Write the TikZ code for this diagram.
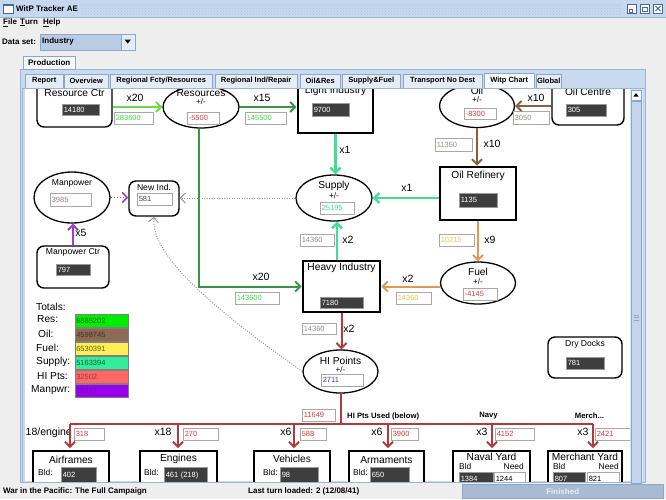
\documentclass[tikz,border=0pt]{standalone}
\usepackage{fontspec}
\setmainfont{Liberation Sans}
\usetikzlibrary{arrows.meta,shapes.geometric,patterns}
\definecolor{winbg}{HTML}{EEEEEE}
\definecolor{titlebg}{HTML}{C6D8EF}
\definecolor{titlepat}{HTML}{AFC5E3}
\definecolor{titleline}{HTML}{9DB6D6}
\definecolor{iconbd}{HTML}{4A6A9A}
\definecolor{panelbg}{HTML}{C8DAEF}
\definecolor{panelbd}{HTML}{9DB6D6}
\definecolor{tabbg}{HTML}{E4ECF6}
\definecolor{tabsel}{HTML}{F6F9FD}
\definecolor{tabbd}{HTML}{8EA7C7}
\definecolor{combobg}{HTML}{B9CCE4}
\definecolor{sbtrack}{HTML}{D8E4F2}
\definecolor{sbthumb}{HTML}{C2D5EC}
\definecolor{progbg}{HTML}{A9BBD3}
\definecolor{progtx}{HTML}{E6ECF4}
\definecolor{lgreen}{HTML}{6CD84C}
\definecolor{dgreen}{HTML}{3A9448}
\definecolor{mteal}{HTML}{3FE092}
\definecolor{brownar}{HTML}{8E5E3A}
\definecolor{orangear}{HTML}{DE9A55}
\definecolor{redar}{HTML}{B23A3A}
\definecolor{purpar}{HTML}{A03CD0}
\definecolor{dotgray}{HTML}{9A9A9A}
\definecolor{valbd}{HTML}{A8A8A8}
\definecolor{darkval}{HTML}{3E3E3E}
\definecolor{dvalbd}{HTML}{9A9A9A}
\definecolor{tgreen}{HTML}{44D844}
\definecolor{tred}{HTML}{E03A3A}
\definecolor{tbrown}{HTML}{A58C7C}
\definecolor{tteal}{HTML}{3ED8A0}
\definecolor{tyel}{HTML}{EFC24A}
\definecolor{tgray}{HTML}{8E8E8E}
\definecolor{tblue}{HTML}{3344BB}
\definecolor{tmauve}{HTML}{A07A88}
\definecolor{tdk}{HTML}{444444}
\definecolor{cres}{HTML}{00EE00}
\definecolor{coil}{HTML}{8E6A52}
\definecolor{cfuel}{HTML}{FFEE55}
\definecolor{csup}{HTML}{33EE99}
\definecolor{chi}{HTML}{FF6666}
\definecolor{cman}{HTML}{9900EE}
\newcommand\myui{\fontsize{8}{9.6}\selectfont\bfseries}
\newcommand\mytab{\fontsize{7.5}{9}\selectfont\bfseries}
\newcommand\mydg{\fontsize{10.2}{12}\selectfont}
\newcommand\mysm{\fontsize{8.6}{10}\selectfont}
\newcommand\myval{\fontsize{7.5}{9}\selectfont}
\newcommand\mylab{\fontsize{10.5}{12}\selectfont}
\newcommand\mypm{\fontsize{8}{9}\selectfont}
\newcommand\mybld{\fontsize{8.4}{9}\selectfont}
\newcommand\mysmb{\fontsize{7.7}{9}\selectfont\bfseries}
\tikzset{
 txt/.style={inner sep=0pt, font=\mydg},
 stxt/.style={inner sep=0pt, font=\mysm},
 pm/.style={inner sep=0pt, font=\mypm},
 lab/.style={inner sep=0pt, font=\mylab},
 rbox/.style={draw=black, rounded corners=7pt, line width=1.4pt, inner sep=0pt, fill=white},
 tbox/.style={draw=black, line width=2.8pt, inner sep=0pt, fill=white},
 ell/.style={draw=black, ellipse, line width=1.3pt, inner sep=0pt, fill=white},
 val/.style={draw=valbd, fill=white, line width=0.6pt, inner xsep=1.5pt, inner ysep=0pt, anchor=north west, align=left, font=\myval},
 dval/.style={val, fill=darkval, draw=dvalbd, text=white},
 ar/.style={line width=2pt, -{Straight Barb[length=5pt,width=10pt]}},
 dotar/.style={dotgray, line width=1pt, dash pattern=on 1pt off 1.5pt, -{Straight Barb[length=5pt,width=10pt]}},
 tabn/.style={draw=tabbd, fill=tabbg, inner sep=0pt, anchor=south west, minimum height=14pt, font=\mytab},
 tot/.style={inner sep=0pt, anchor=west, font=\mydg},
 totbox/.style={draw=gray, line width=0.5pt, anchor=north west, minimum width=53pt, minimum height=12.5pt, inner sep=0pt, inner xsep=1pt, align=left, text width=51pt, font=\myval},
}
\begin{document}
\begin{tikzpicture}[x=1pt,y=-1pt]
\useasboundingbox (0,0) rectangle (666,499);
\fill[winbg] (0,0) rectangle (666,499);
% ---------- title bar
\fill[titlebg] (0,0) rectangle (666,17);
\fill[pattern=crosshatch dots, pattern color=titlepat] (80,3) rectangle (622,14);
\draw[titleline] (0,17) -- (666,17);
\node[draw=iconbd, fill=white, line width=0.8pt, minimum width=10pt, minimum height=9pt, inner sep=0pt] (ticon) at (8,8.5) {};
\fill[iconbd] (ticon.north west) rectangle ([yshift=-2.5pt]ticon.north east);
\node[anchor=west, inner sep=0pt, font=\myui] (ttl) at (16,9) {WitP Tracker AE};
\node[draw=iconbd, fill=white, line width=0.6pt, minimum size=9pt, inner sep=0pt] (wb1) at (632,8.5) {};
\node[draw=iconbd, fill=white, line width=0.6pt, minimum size=9pt, inner sep=0pt] (wb2) at (645,8.5) {};
\node[draw=iconbd, fill=white, line width=0.6pt, minimum size=9pt, inner sep=0pt] (wb3) at (658,8.5) {};
\draw[iconbd, line width=1pt] (629.5,9.5) rectangle (632.5,12);
\draw[iconbd, line width=1pt] (642.5,7) rectangle (647.5,11.5);
\draw[iconbd, line width=1pt] (655.5,6) -- (660.5,11) (660.5,6) -- (655.5,11);
% ---------- menu
\node[anchor=west, inner sep=0pt, font=\myui] (mfile) at (3,22.5) {\underline{F}ile};
\node[anchor=west, inner sep=0pt, font=\myui] (mturn) at (20,22.5) {\underline{T}urn};
\node[anchor=west, inner sep=0pt, font=\myui] (mhelp) at (43,22.5) {\underline{H}elp};
% ---------- data set
\node[anchor=west, inner sep=0pt, font=\myui] (dslab) at (2,42) {Data set:};
\node[draw=tabbd, fill=combobg, minimum width=95pt, minimum height=16pt, anchor=north west, inner sep=0pt] (combo) at (39.5,33.5) {};
\node[anchor=west, inner sep=0pt, font=\myui] (combot) at (42,41.5) {Industry};
\node[draw=tabbd, fill=tabbg, minimum width=14pt, minimum height=16pt, anchor=north east, inner sep=0pt] (cbtn) at (combo.north east) {};
\fill (124.5,39.5) -- (131,39.5) -- (127.75,43.5) -- cycle;
% ---------- tabbed panes
\draw[panelbd, fill=panelbg] (20,69) rectangle (645,482);
\node[tabn, fill=tabsel, minimum width=52pt, minimum height=13pt, font=\myui] (ptab) at (23,69.5) {Production};
\node[tabn, minimum width=38pt] (t1) at (25,88) {Report};
\node[tabn, minimum width=44pt] (t2) at (64,88) {Overview};
\node[tabn, minimum width=102pt] (t3) at (110,88) {Regional Fcty/Resources};
\node[tabn, minimum width=82pt] (t4) at (215,88) {Regional Ind/Repair};
\node[tabn, minimum width=40pt] (t5) at (300,88) {Oil\&Res};
\node[tabn, minimum width=58pt] (t6) at (342,88) {Supply\&Fuel};
\node[tabn, minimum width=79pt] (t7) at (403,88) {Transport No Dest};
\node[tabn, minimum width=50pt, fill=tabsel, minimum height=15pt] (t8) at (484,88.5) {Witp Chart};
\node[tabn, minimum width=25pt] (t9) at (536,88) {Global};
\draw[panelbd, fill=panelbg] (22,88) rectangle (645,482);
\fill[white] (25,89) rectangle (630,481);
% scrollbar
\fill[sbtrack] (630,89) rectangle (643,481);
\node[draw=tabbd, fill=tabsel, minimum width=10pt, minimum height=10pt, anchor=north west, inner sep=0pt] (sbup) at (631,90) {};
\fill (633.5,96.5) -- (638.5,96.5) -- (636,93) -- cycle;
\node[draw=tabbd, fill=sbthumb, minimum width=10pt, minimum height=382pt, anchor=north west, inner sep=0pt] (sbth) at (631,101) {};
\draw[tabbd] (633.5,315) -- (638.5,315) (633.5,317.5) -- (638.5,317.5) (633.5,320) -- (638.5,320);
% ---------- status bar
\node[anchor=west, inner sep=0pt, font=\myui] (st1) at (3,491) {War in the Pacific: The Full Campaign};
\node[anchor=west, inner sep=0pt, font=\myui] (st2) at (248,491) {Last turn loaded: 2 (12/08/41)};
\node[draw=tabbd, fill=progbg, minimum width=201pt, minimum height=14pt, anchor=north west, inner sep=0pt, font=\myui, text=progtx] (prog) at (462,484) {Finished};
% ================= chart
\begin{scope}
\clip (25,89) rectangle (630,481);
% ---- nodes
\node[rbox, minimum width=75pt, minimum height=60pt] (rc) at (74.5,97) {};
\node[txt] (rct) at (74.5,93) {Resource Ctr};
\node[ell, minimum width=76pt, minimum height=42pt] (res) at (201,107) {};
\node[txt] (rest) at (201,93) {Resources};
\node[pm] (respm) at (201,102) {+/-};
\node[tbox, minimum width=75pt, minimum height=55pt] (li) at (335.5,105.5) {};
\node[txt] (lit) at (335.5,90.5) {Light Industry};
\node[ell, minimum width=75pt, minimum height=43pt] (oil) at (477,106) {};
\node[txt] (oilt) at (477,91) {Oil};
\node[pm] (oilpm) at (477,100) {+/-};
\node[rbox, minimum width=72pt, minimum height=50pt] (oc) at (588,100) {};
\node[txt] (oct) at (588,92) {Oil Centre};
\node[tbox, minimum width=76pt, minimum height=53pt] (ref) at (478,193.5) {};
\node[txt] (reft) at (478,176) {Oil Refinery};
\node[ell, minimum width=76pt, minimum height=46pt] (sup) at (334,198) {};
\node[txt] (supt) at (334,186) {Supply};
\node[pm] (suppm) at (334,195.5) {+/-};
\node[ell, minimum width=75pt, minimum height=42pt] (fuel) at (478,283) {};
\node[txt] (fuelt) at (478,271.5) {Fuel};
\node[pm] (fuelpm) at (478,281.5) {+/-};
\node[tbox, minimum width=77pt, minimum height=51pt] (hi) at (341.5,286.5) {};
\node[txt] (hit) at (341.5,268) {Heavy Industry};
\node[ell, minimum width=75pt, minimum height=43pt] (hip) at (340.5,371.5) {};
\node[txt] (hipt) at (340.5,360.5) {HI Points};
\node[pm] (hippm) at (340.5,369.5) {+/-};
\node[rbox, minimum width=50pt, minimum height=35pt] (ni) at (154,198.5) {};
\node[stxt] (nit) at (154,187) {New Ind.};
\node[ell, minimum width=76pt, minimum height=51pt] (mp) at (72,197.5) {};
\node[stxt] (mpt) at (72,183) {Manpower};
\node[rbox, minimum width=72pt, minimum height=42pt] (mc) at (73,267) {};
\node[stxt] (mct) at (73,252) {Manpower Ctr};
\node[rbox, minimum width=74pt, minimum height=41pt] (dd) at (585,357.5) {};
\node[stxt] (ddt) at (585,344) {Dry Docks};
% bottom boxes
\node[tbox, minimum width=76pt, minimum height=58pt] (af) at (71,480) {};
\node[txt] (aft) at (71,460) {Airframes};
\node[tbox, minimum width=77pt, minimum height=58pt] (en) at (178.5,480) {};
\node[txt] (ent) at (178.5,459) {Engines};
\node[tbox, minimum width=76pt, minimum height=58pt] (ve) at (292,480) {};
\node[txt] (vet) at (292,459) {Vehicles};
\node[tbox, minimum width=75pt, minimum height=58pt] (arm) at (386.5,480) {};
\node[txt] (armt) at (386.5,460) {Armaments};
\node[tbox, minimum width=77pt, minimum height=58pt] (ny) at (491.5,480) {};
\node[txt] (nyt) at (491.5,457) {Naval Yard};
\node[tbox, minimum width=74pt, minimum height=58pt] (my) at (585,480) {};
\node[txt] (myt) at (585,457) {Merchant Yard};
\node[inner sep=0pt, anchor=west, font=\mybld] (afb) at (38,472) {Bld:};
\node[inner sep=0pt, anchor=west, font=\mybld] (enb) at (144,472) {Bld:};
\node[inner sep=0pt, anchor=west, font=\mybld] (veb) at (263,472) {Bld:};
\node[inner sep=0pt, anchor=west, font=\mybld] (armb) at (353,472) {Bld:};
\node[inner sep=0pt, anchor=west, font=\mybld] (nyb) at (459,466) {Bld};
\node[inner sep=0pt, anchor=east, font=\mybld] (nyn) at (524,466) {Need};
\node[inner sep=0pt, anchor=west, font=\mybld] (myb) at (553,466) {Bld};
\node[inner sep=0pt, anchor=east, font=\mybld] (myn) at (619,466) {Need};
% ---- values
\node[dval, text width=34pt, minimum height=11pt] (vrc) at (62,104) {14180};
\node[val, text width=36pt, minimum height=12pt, text=tgreen] (v283) at (114,112) {283600};
\node[val, text width=29pt, minimum height=12pt, text=tred] (vres) at (187,112) {-5500};
\node[val, text width=38pt, minimum height=12pt, text=tgreen] (v145) at (245,112) {145500};
\node[dval, text width=34pt, minimum height=13pt] (vli) at (312,103) {9700};
\node[val, text width=29pt, minimum height=11pt, text=tred] (voil) at (464,108) {-8300};
\node[dval, text width=37pt, minimum height=12pt] (voc) at (566,104) {305};
\node[val, text width=33pt, minimum height=13pt, text=tbrown] (v3050) at (513,111) {3050};
\node[val, text width=34pt, minimum height=13pt, text=tbrown] (v11350) at (435,138) {11350};
\node[dval, text width=35pt, minimum height=14pt] (vref) at (459,193) {1135};
\node[val, text width=31pt, minimum height=12pt, text=tteal] (vsup) at (320,202) {25195};
\node[val, text width=32pt, minimum height=12pt, text=tyel] (v10215) at (439,234) {10215};
\node[val, text width=31pt, minimum height=12pt, text=tred] (vfuel) at (463,288) {-4145};
\node[val, text width=32pt, minimum height=12pt, text=tyel] (v14360a) at (396,292) {14360};
\node[dval, text width=40pt, minimum height=11pt] (vhi) at (320,297) {7180};
\node[val, text width=31pt, minimum height=12pt, text=tgray] (v14360b) at (300,234) {14360};
\node[val, text width=41pt, minimum height=12pt, text=tgreen] (v143) at (235,292) {143600};
\node[val, text width=31pt, minimum height=11pt, text=tgray] (v14360c) at (302,323) {14360};
\node[val, text width=39pt, minimum height=12pt, text=tblue] (vhip) at (321,374) {2711};
\node[val, text width=32pt, minimum height=12pt, text=tdk] (vni) at (137,193) {581};
\node[val, text width=38pt, minimum height=13pt, text=tmauve] (vmp) at (50,193) {3985};
\node[dval, text width=31pt, minimum height=11pt] (vmc) at (56,264) {797};
\node[dval, text width=35pt, minimum height=12pt] (vdd) at (566,357) {781};
\node[val, text width=30pt, minimum height=12pt, text=tred] (v11649) at (302,409) {11649};
\node[val, text width=27pt, minimum height=12pt, text=tred] (v318) at (74,428) {318};
\node[val, text width=32pt, minimum height=12pt, text=tred] (v270) at (183,428) {270};
\node[val, text width=23pt, minimum height=12pt, text=tred] (v588) at (300,428) {588};
\node[val, text width=24pt, minimum height=12pt, text=tred] (v3900) at (391,428) {3900};
\node[val, text width=36pt, minimum height=12pt, text=tred] (v4152) at (495,428) {4152};
\node[val, text width=32pt, minimum height=12pt, text=tred] (v2421) at (595,428) {2421};
\node[dval, text width=32pt, minimum height=16pt] (v402) at (61,467) {402};
\node[dval, text width=40pt, minimum height=16pt] (v461) at (164,467) {461 (218)};
\node[dval, text width=35pt, minimum height=16pt] (v98) at (280,467) {98};
\node[dval, text width=36pt, minimum height=16pt] (v650) at (370,467) {650};
\node[dval, text width=31pt, minimum height=13pt] (v1384) at (459,472) {1384};
\node[val, text width=28pt, minimum height=13pt] (v1244) at (494,472) {1244};
\node[dval, text width=29pt, minimum height=13pt] (v807) at (553,472) {807};
\node[val, text width=29pt, minimum height=13pt] (v821) at (587,472) {821};
% ---- labels
\node[lab] (l1) at (135,98) {x20};
\node[lab] (l2) at (262,98) {x15};
\node[lab] (l3) at (345,150) {x1};
\node[lab] (l4) at (536,98) {x10};
\node[lab] (l5) at (492,144) {x10};
\node[lab] (l6) at (407,188) {x1};
\node[lab] (l7) at (490,240) {x9};
\node[lab] (l8) at (408,279) {x2};
\node[lab] (l9) at (348,240) {x2};
\node[lab] (l10) at (261,277) {x20};
\node[lab] (l11) at (349,329) {x2};
\node[lab] (l12) at (81,233) {x5};
\node[lab, anchor=east] (l13) at (72,433) {18/engine};
\node[lab] (l14) at (163,432) {x18};
\node[lab] (l15) at (286,432) {x6};
\node[lab] (l16) at (377,432) {x6};
\node[lab] (l17) at (482,432) {x3};
\node[lab] (l18) at (583,432) {x3};
\node[inner sep=0pt, anchor=west, font=\mysmb] (hpu) at (347,416) {HI Pts Used (below)};
\node[inner sep=0pt, font=\mysmb] (navy) at (488.5,416) {Navy};
\node[inner sep=0pt, font=\mysmb] (merch) at (589.5,416) {Merch...};
% ---- totals
\node[tot] (tott) at (36,307) {Totals:};
\node[tot] (totr) at (37,319.5) {Res:};
\node[tot] (toto) at (38,334) {Oil:};
\node[tot] (totf) at (36,348) {Fuel:};
\node[tot] (tots) at (36,362) {Supply:};
\node[tot] (toth) at (37,376) {HI Pts:};
\node[tot] (totm) at (31,390.5) {Manpwr:};
\node[totbox, fill=cres, text=cres!45!black] (bres) at (75,314) {8885202};
\node[totbox, fill=coil, text=coil!45!black] (boil) at (75,328) {4598745};
\node[totbox, fill=cfuel, text=cfuel!40!black] (bfuel) at (75,342) {6530391};
\node[totbox, fill=csup, text=csup!40!black] (bsup) at (75,356) {5163394};
\node[totbox, fill=chi, text=chi!60!black] (bhi) at (75,370) {32502};
\node[totbox, fill=cman, text=cman!75!black] (bman) at (75,384) {16977};
% ---- connectors
\draw[ar, lgreen] (rc.east |- res.west) -- (res.west);
\draw[ar, dgreen] (res.east) -- (res.east -| li.west);
\draw[ar, mteal, line width=2.4pt] (li.south) -- (li.south |- sup.north);
\draw[ar, brownar] (oc.west |- oil.east) -- (oil.east);
\draw[ar, brownar] (oil.south) -- (oil.south |- ref.north);
\draw[ar, mteal, line width=2.4pt] (ref.west |- sup.east) -- (sup.east);
\draw[ar, orangear] (ref.south) -- (ref.south |- fuel.north);
\draw[ar, orangear] (fuel.west |- hi.east) -- (hi.east);
\draw[ar, mteal, line width=2.4pt] ([xshift=-4.5pt]hi.north) -- ([xshift=-4.5pt]hi.north |- sup.south);
\draw[ar, dgreen] ([xshift=-2pt]res.south) |- (hi.west);
\draw[ar, redar] (hi.south) -- (hi.south |- hip.north);
\draw[dotar] (hip.west) .. controls (215,310) and (150,255) .. (ni.south);
\draw[dotar] (sup.west) -- (sup.west -| ni.east);
\draw[purpar, line width=1.5pt, dash pattern=on 1.5pt off 1.5pt, -{Straight Barb[length=5pt,width=10pt]}] (mp.east) -- (mp.east -| ni.west);
\draw[ar, purpar] (mc.north) -- (mc.north |- mp.south);
% distribution bus
\coordinate (bus0) at (340.5,424);
\coordinate (bb1) at (70,424);
\coordinate (bb2) at (178,424);
\coordinate (bb3) at (294,424);
\coordinate (bb4) at (388,424);
\coordinate (bb5) at (492,424);
\coordinate (bb6) at (593,424);
\draw[redar, line width=2pt] (hip.south) -- (bus0);
\draw[redar, line width=2pt] (bb1) -- (bb6);
\draw[ar, redar, shorten >=1.5pt] (bb1) -- (bb1 |- af.north);
\draw[ar, redar, shorten >=1.5pt] (bb2) -- (bb2 |- en.north);
\draw[ar, redar, shorten >=1.5pt] (bb3) -- (bb3 |- ve.north);
\draw[ar, redar, shorten >=1.5pt] (bb4) -- (bb4 |- arm.north);
\draw[ar, redar, shorten >=1.5pt] (bb5) -- (bb5 |- ny.north);
\draw[ar, redar, shorten >=1.5pt] (bb6) -- (bb6 |- my.north);
\end{scope}
\end{tikzpicture}
\end{document}
